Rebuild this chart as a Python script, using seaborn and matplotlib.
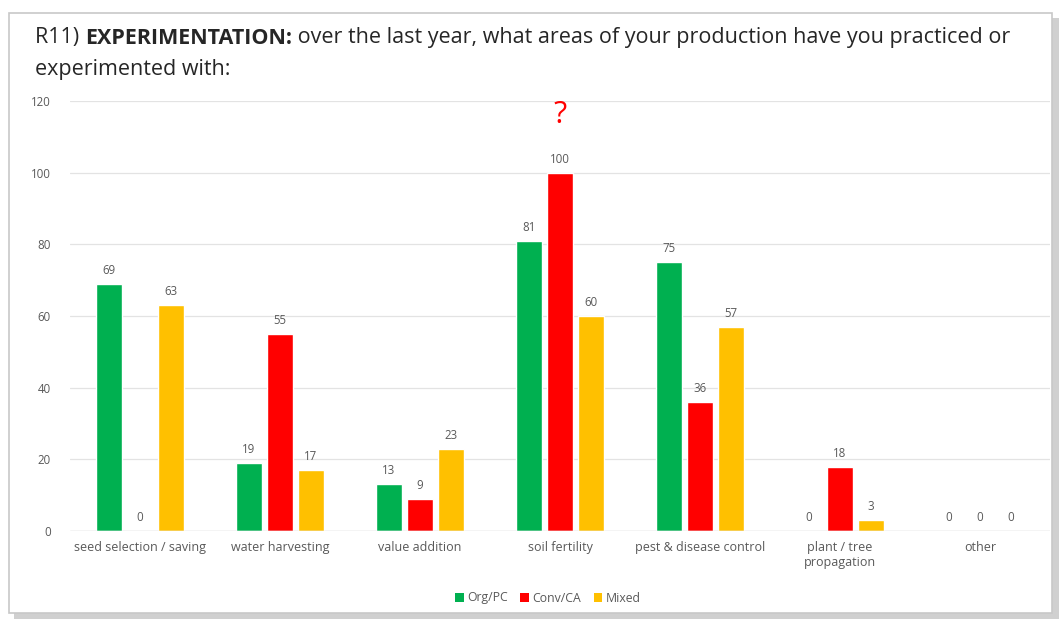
import matplotlib
matplotlib.use("Agg")
import matplotlib.pyplot as plt
import seaborn as sns
import pandas as pd
from matplotlib.patches import Rectangle, Patch

categories = ["seed selection / saving", "water harvesting", "value addition",
              "soil fertility", "pest & disease control", "plant / tree\npropagation", "other"]
series_names = ["Org/PC", "Conv/CA", "Mixed"]
org_pc = [69, 19, 13, 81, 75, 0, 0]
conv_ca = [0, 55, 9, 100, 36, 18, 0]
mixed = [63, 17, 23, 60, 57, 3, 0]
colors = ["#00B050", "#FF0000", "#FFC000"]
yticks = [0, 20, 40, 60, 80, 100, 120]

rows = []
for name, vals in zip(series_names, [org_pc, conv_ca, mixed]):
    for c, v in zip(categories, vals):
        rows.append({"category": c, "series": name, "value": v})
df = pd.DataFrame(rows)

sns.set_theme(style="white")
plt.rcParams["font.family"] = ["Open Sans", "DejaVu Sans"]

fig = plt.figure(figsize=(10.61, 6.19), dpi=100)
fig.patch.set_facecolor("white")

# slide frame with shadow
fig.patches.append(Rectangle((14 / 1061, 0.0), 1045 / 1061, 1 - 18 / 619, transform=fig.transFigure,
                             facecolor="#D0D0D0", edgecolor="none", zorder=-3))
fig.patches.append(Rectangle((9 / 1061, 6 / 619), 1043 / 1061, 1 - 19 / 619, transform=fig.transFigure,
                             facecolor="white", edgecolor="#C8C8C8", linewidth=1.2, zorder=-2))

ax = fig.add_axes([70 / 1061, 1 - 531 / 619, 980 / 1061, 430 / 619])
ax.set_facecolor("none")

sns.barplot(data=df, x="category", y="value", hue="series", hue_order=series_names,
            palette=colors, width=0.665, gap=0.19, ax=ax, saturation=1, legend=False,
            errorbar=None)

for cont in ax.containers:
    ax.bar_label(cont, fmt="%d", padding=5, fontsize=8.3, color="#595959")

ax.set_ylim(0, 120)
ax.set_yticks(yticks)
ax.set_xlim(-0.5, len(categories) - 0.5)
ax.yaxis.grid(True, color="#E3E3E3", linewidth=0.9)
ax.set_axisbelow(True)
for s in ax.spines.values():
    s.set_visible(False)
ax.axhline(0, color="#D9D9D9", linewidth=1.0, zorder=1)
ax.set_xlabel("")
ax.set_ylabel("")
ax.tick_params(axis="both", length=0, labelcolor="#595959")
ax.tick_params(axis="y", pad=14, labelsize=8.3)
ax.tick_params(axis="x", pad=7, labelsize=9)

# question mark above soil fertility
ax.text(3, 116, "?", color="#FF0000", fontsize=22, ha="center", va="center")

# legend
handles = [Patch(facecolor=c, edgecolor="none") for c in colors]
fig.legend(handles, series_names, loc="center", bbox_to_anchor=(548 / 1061, 1 - 598 / 619),
           ncol=3, frameon=False, fontsize=8.8, handlelength=0.7, handleheight=0.7,
           handletextpad=0.3, columnspacing=1.0, labelcolor="#595959")

# title with bold segment
fig.canvas.draw()
renderer = fig.canvas.get_renderer()
x0 = 35 / 1061
y1 = 1 - 38 / 619
parts = [("R11) ", "normal"), ("EXPERIMENTATION:", "bold"),
         (" over the last year, what areas of your production have you practiced or", "normal")]
x = x0
for txt, w in parts:
    t = fig.text(x, y1, txt, fontsize=15.5, fontweight=w, color="#262626", va="center", ha="left")
    bb = t.get_window_extent(renderer=renderer)
    x += bb.width / fig.bbox.width
fig.text(x0, 1 - 70 / 619, "experimented with:", fontsize=15.5, color="#262626", va="center", ha="left")

fig.savefig("out.png", dpi=100)
